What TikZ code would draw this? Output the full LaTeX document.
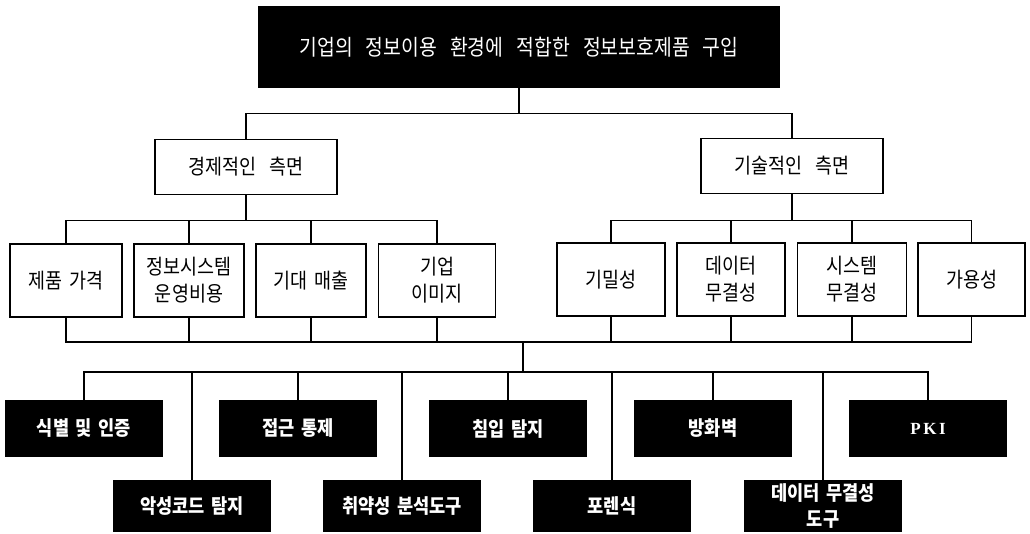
\documentclass[tikz,border=0pt]{standalone}
\usepackage{fontspec}
\setmainfont{Noto Sans CJK KR}[WordSpace=3,FakeStretch=0.88]
\newfontfamily\pkifont{Liberation Serif}[LetterSpace=15]
\begin{document}
\begin{tikzpicture}[x=1pt,y=-1pt,
  wbox/.style={draw=black,line width=1.4pt,fill=white,minimum height=73pt,text width=106pt,align=center,inner sep=0pt,font=\fontsize{21}{27}\selectfont},
  hbox/.style={draw=black,line width=1.4pt,fill=white,minimum height=55pt,minimum width=182pt,inner sep=0pt,font=\fontsize{21}{24}\selectfont},
  kbox/.style={fill=black,text=white,minimum width=158pt,text width=154pt,align=center,inner sep=0pt,font=\bfseries\fontsize{20}{26}\selectfont},
  upbox/.style={kbox,minimum height=57pt},
  lowbox/.style={kbox,minimum height=52pt},
  conn/.style={line width=1.4pt,black}]
\useasboundingbox (0,0) rectangle (1030,533);

\node[fill=black,text=white,minimum width=522pt,minimum height=82pt,inner sep=0pt,font=\fontsize{22}{24}\selectfont] (top) at (519,47) {기업의 정보이용 환경에 적합한 정보보호제품 구입};

\node[hbox] (econ) at (246,167) {경제적인 측면};
\node[hbox] (tech) at (792,166) {기술적인 측면};

\node[wbox,minimum width=112pt] (L1) at (66,280.5) {제품 가격};
\node[wbox,minimum width=110pt] (L2) at (189,280.5) {정보시스템\\운영비용};
\node[wbox,minimum width=110pt] (L3) at (311,280.5) {기대 매출};
\node[wbox,minimum width=117pt] (L4) at (437,280.5) {기업\\이미지};
\node[wbox,minimum width=108pt] (R1) at (611,279.5) {기밀성};
\node[wbox,minimum width=108pt] (R2) at (731,279.5) {데이터\\무결성};
\node[wbox,minimum width=109pt] (R3) at (852,279.5) {시스템\\무결성};
\node[wbox,minimum width=107pt] (R4) at (971.5,279.5) {가용성};

\coordinate (mid) at (523,342);
\coordinate (bus) at (523,372);

\node[upbox] (B1) at (84,428.5) {식별 및 인증};
\node[lowbox] (B2) at (192,506) {악성코드 탐지};
\node[upbox] (B3) at (298,428.5) {접근 통제};
\node[lowbox] (B4) at (402,506) {취약성 분석도구};
\node[upbox] (B5) at (508,428.5) {침입 탐지};
\node[lowbox] (B6) at (612,506) {포렌식};
\node[upbox] (B7) at (713,428.5) {방화벽};
\node[lowbox] (B8) at (823,506) {데이터 무결성\\도구};
\node[upbox,font=\pkifont\bfseries\fontsize{17}{20}\selectfont] (B9) at (928,428.5) {PKI};

\draw[conn] (top.south) -- ++(0,25) -| (econ.north);
\draw[conn] (top.south) -- ++(0,25) -| (tech.north);

\foreach \c in {L1,L2,L3,L4} \draw[conn] (econ.south) -- ++(0,25) -| (\c.north);
\foreach \c in {R1,R2,R3,R4} \draw[conn] (tech.south) -- ++(0,26) -| (\c.north);

\foreach \c in {L1,L2,L3,L4,R1,R2,R3,R4} \draw[conn] (\c.south) |- (mid);
\draw[conn] (mid) -- (bus);
\foreach \c in {B1,B2,B3,B4,B5,B6,B7,B8,B9} \draw[conn] (bus) -| (\c.north);
\end{tikzpicture}
\end{document}
